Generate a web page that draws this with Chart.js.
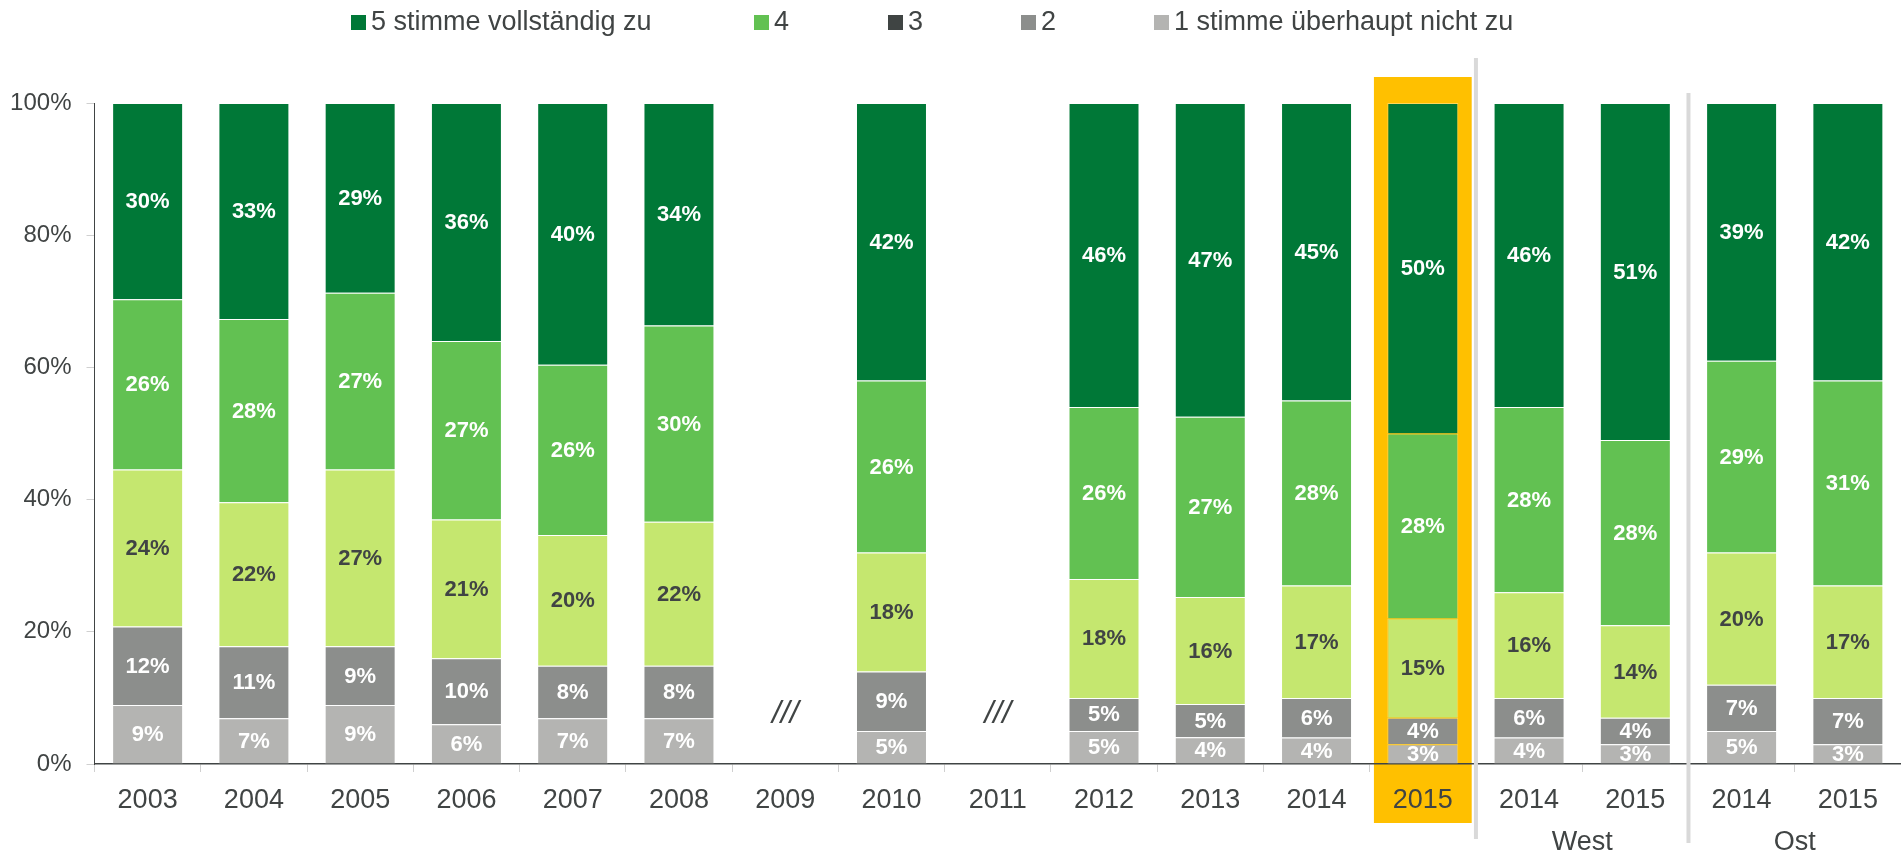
<!DOCTYPE html>
<html lang="de">
<head>
<meta charset="utf-8">
<title>Zustimmung 2003-2015</title>
<script src="https://cdn.jsdelivr.net/npm/chart.js@4.4.1/dist/chart.umd.min.js"></script>
<style>
  html, body { margin: 0; padding: 0; background: #fff; }
  #chart { display: block; }
</style>
</head>
<body>
<canvas id="chart" width="1901" height="855"></canvas>
<script>
// --- data (values as printed in the bars, in %) ---
const categories = ['2003', '2004', '2005', '2006', '2007', '2008', '2009', '2010', '2011',
                    '2012', '2013', '2014', '2015', '2014', '2015', '2014', '2015'];
const agree5 = [30, 33, 29, 36, 40, 34, null, 42, null, 46, 47, 45, 50, 46, 51, 39, 42];
const agree4 = [26, 28, 27, 27, 26, 30, null, 26, null, 26, 27, 28, 28, 28, 28, 29, 31];
const agree3 = [24, 22, 27, 21, 20, 22, null, 18, null, 18, 16, 17, 15, 16, 14, 20, 17];
const agree2 = [12, 11, 9, 10, 8, 8, null, 9, null, 5, 5, 6, 4, 6, 4, 7, 7];
const agree1 = [9, 7, 9, 6, 7, 7, null, 5, null, 5, 4, 4, 3, 4, 3, 5, 3];
const yTicks = [0, 20, 40, 60, 80, 100];

const legendLabels = ['5 stimme vollständig zu', '4', '3', '2', '1 stimme überhaupt nicht zu'];
const highlightIndex = 12;           // total 2015
const groups = [
    { label: 'West', from: 13, to: 14 },
    { label: 'Ost', from: 15, to: 16 }
];

const textColor = '#404444';
const fontFamily = '"Liberation Sans", Arial, sans-serif';

// bottom-up order for stacking
const series = [
    { name: legendLabels[4], values: agree1, color: '#b4b4b2', legend: '#b4b4b2', label: '#ffffff' },
    { name: legendLabels[3], values: agree2, color: '#8c8e8c', legend: '#8c8e8c', label: '#ffffff' },
    { name: legendLabels[2], values: agree3, color: '#c5e76f', legend: '#3f4443', label: textColor },
    { name: legendLabels[1], values: agree4, color: '#62c152', legend: '#62c152', label: '#ffffff' },
    { name: legendLabels[0], values: agree5, color: '#007837', legend: '#007837', label: '#ffffff' }
];

// 100% stacked: each column scaled to its own total
const totals = categories.map((c, i) => {
    if (agree5[i] === null) return null;
    return series.reduce((sum, s) => sum + s.values[i], 0);
});

const datasets = series.map(s => ({
    label: s.name,
    data: s.values.map((v, i) => v === null ? null : v / totals[i] * 100),
    backgroundColor: s.color,
    borderColor: 'rgba(255,255,255,0.35)',
    borderWidth: 1,
    categoryPercentage: 1.0,
    barPercentage: 0.668
}));

// --- yellow frame behind the highlighted year ---
const highlightPlugin = {
    id: 'highlight',
    beforeDraw(chart) {
        const { ctx, scales: { x, y } } = chart;
        const cw = x.width / categories.length;
        const cx = x.getPixelForValue(highlightIndex);
        ctx.save();
        ctx.fillStyle = '#ffc000';
        ctx.fillRect(cx - cw * 0.46, y.getPixelForValue(100) - 26, cw * 0.92, y.bottom - y.getPixelForValue(100) + 85);
        ctx.restore();
    }
};

// --- values inside the segments ---
const barLabelPlugin = {
    id: 'barLabels',
    afterDatasetsDraw(chart) {
        const { ctx } = chart;
        ctx.save();
        ctx.font = 'bold 22px ' + fontFamily;
        ctx.textAlign = 'center';
        ctx.textBaseline = 'middle';
        series.forEach((s, di) => {
            const meta = chart.getDatasetMeta(di);
            meta.data.forEach((bar, i) => {
                if (s.values[i] === null) return;
                ctx.fillStyle = s.label;
                ctx.fillText(s.values[i] + '%', bar.x, (bar.y + bar.base) / 2 + 1);
            });
        });
        ctx.restore();
    }
};

// --- legend, separators, group names, gap marks ---
const decorPlugin = {
    id: 'decor',
    afterDraw(chart) {
        const { ctx, scales: { x, y } } = chart;
        const cw = x.width / categories.length;
        ctx.save();

        // legend
        const legendX = [351, 754, 888, 1021, 1154];
        ctx.font = '27px ' + fontFamily;
        ctx.textBaseline = 'middle';
        ctx.textAlign = 'left';
        legendLabels.forEach((name, i) => {
            const s = series[4 - i];
            ctx.fillStyle = s.legend;
            ctx.fillRect(legendX[i], 15, 15, 15);
            ctx.fillStyle = textColor;
            ctx.fillText(name, legendX[i] + 20, 23);
        });

        // vertical separators before each group
        ctx.fillStyle = '#d9d9d9';
        groups.forEach((g, gi) => {
            const sx = x.getPixelForValue(g.from) - cw / 2;
            const top = gi === 0 ? 58 : 93;
            const bottom = gi === 0 ? 839 : 843;
            ctx.fillRect(sx - 2, top, 4, bottom - top);
        });

        // group names
        ctx.fillStyle = textColor;
        ctx.textAlign = 'center';
        groups.forEach(g => {
            const gx = (x.getPixelForValue(g.from) + x.getPixelForValue(g.to)) / 2;
            ctx.fillText(g.label, gx, 843);
        });

        // "///" for the years without survey
        ctx.font = 'italic 32px ' + fontFamily;
        categories.forEach((c, i) => {
            if (agree5[i] !== null) return;
            ctx.fillText('///', x.getPixelForValue(i), y.getPixelForValue(7.5));
        });
        ctx.restore();
    }
};

const chart = new Chart(document.getElementById('chart'), {
    type: 'bar',
    data: { labels: categories, datasets: datasets },
    options: {
        responsive: false,
        animation: false,
        devicePixelRatio: 1,
        layout: { padding: { top: 103, right: 0, bottom: 0, left: 0 } },
        plugins: {
            legend: { display: false },
            tooltip: { enabled: false }
        },
        scales: {
            x: {
                stacked: true,
                afterFit(scale) { scale.height = 91; },
                grid: {
                    drawOnChartArea: false,
                    drawTicks: true,
                    tickLength: 8,
                    color: '#d0d0d0',
                    offset: true
                },
                border: { color: '#404444', width: 1.5 },
                ticks: {
                    color: textColor,
                    font: { family: fontFamily, size: 27 },
                    padding: 12,
                    maxRotation: 0,
                    autoSkip: false
                }
            },
            y: {
                stacked: true,
                min: 0,
                max: 100,
                afterFit(scale) { scale.width = 94.5; },
                afterBuildTicks(scale) { scale.ticks = yTicks.map(v => ({ value: v })); },
                grid: {
                    drawOnChartArea: false,
                    drawTicks: true,
                    tickLength: 8,
                    color: '#d0d0d0'
                },
                border: { color: '#404444', width: 1 },
                ticks: {
                    color: textColor,
                    font: { family: fontFamily, size: 24 },
                    padding: 15,
                    callback: v => v + '%'
                }
            }
        }
    },
    plugins: [highlightPlugin, barLabelPlugin, decorPlugin]
});
</script>
</body>
</html>
